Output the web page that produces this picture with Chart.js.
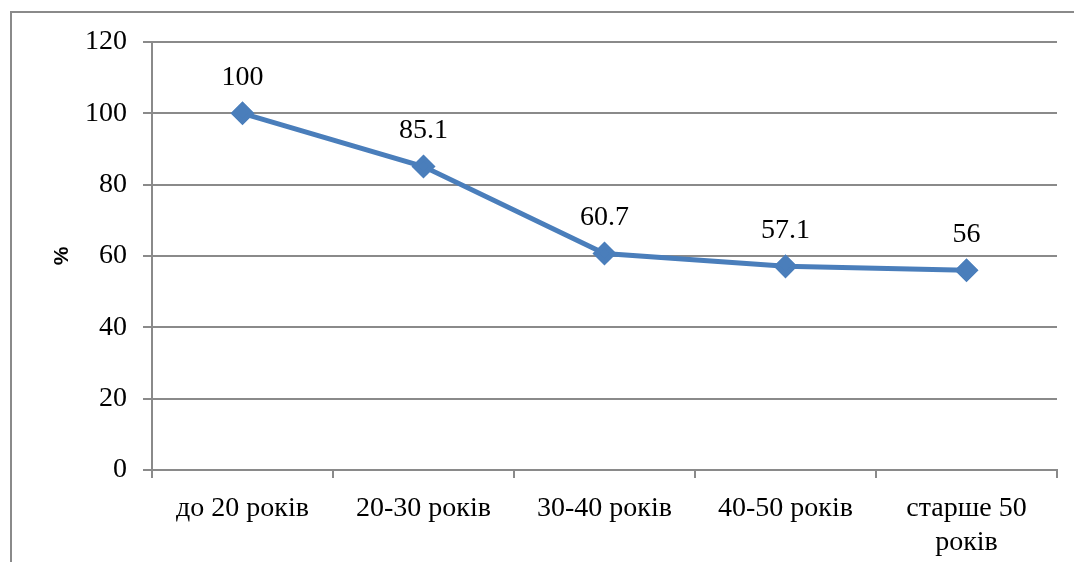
<!DOCTYPE html>
<html>
<head>
<meta charset="utf-8">
<script src="https://cdn.jsdelivr.net/npm/chart.js@4.4.0/dist/chart.umd.min.js"></script>
<style>
  html, body { margin: 0; padding: 0; background: #fff; overflow: hidden; }
  #frame { position: absolute; left: 10px; top: 11px; width: 1200px; height: 700px; border: 2px solid #8a8a8a; box-sizing: border-box; }
  #wrap { position: absolute; left: 0; top: 0; width: 1074px; height: 562px; }
</style>
</head>
<body>
<div id="frame"></div>
<div id="wrap"><canvas id="c" width="1074" height="562"></canvas></div>
<script>
const categories = ["до 20 років", "20-30 років", "30-40 років", "40-50 років", ["старше 50", "років"]];
const values = [100, 85.1, 60.7, 57.1, 56];
const valueLabels = ["100", "85.1", "60.7", "57.1", "56"];
const yTicks = [0, 20, 40, 60, 80, 100, 120];

const SERIF = "'Liberation Serif', 'Times New Roman', serif";
const GRID = '#8a8a8a';

const labelPlugin = {
  id: 'valueLabels',
  afterDatasetsDraw(chart) {
    const ctx = chart.ctx;
    const meta = chart.getDatasetMeta(0);
    ctx.save();
    ctx.font = "28px " + SERIF;
    ctx.fillStyle = '#000';
    ctx.textAlign = 'center';
    ctx.textBaseline = 'middle';
    meta.data.forEach((pt, i) => {
      ctx.fillText(valueLabels[i], pt.x, pt.y - 36);
    });
    ctx.restore();
  }
};

new Chart(document.getElementById('c'), {
  type: 'line',
  data: {
    labels: categories,
    datasets: [{
      data: values,
      borderColor: '#4a7ebb',
      backgroundColor: '#4a7ebb',
      borderWidth: 5,
      pointStyle: 'rectRot',
      pointRadius: 8.5,
      pointHoverRadius: 8.5,
      pointBackgroundColor: '#4a7ebb',
      pointBorderColor: '#4a7ebb',
      tension: 0
    }]
  },
  options: {
    responsive: false,
    animation: false,
    events: [],
    layout: { padding: { top: 42, right: 17, left: 0, bottom: 0 } },
    plugins: { legend: { display: false }, tooltip: { enabled: false } },
    scales: {
      x: {
        offset: true,
        grid: { offset: true, drawOnChartArea: false, drawTicks: true, tickLength: 8, color: GRID, lineWidth: 2 },
        border: { display: true, color: GRID, width: 2 },
        ticks: { color: '#000', font: { family: SERIF, size: 28, lineHeight: 1.2 }, padding: 14, maxRotation: 0, autoSkip: false },
        afterFit(scale) { scale.height = 92; }
      },
      y: {
        min: 0, max: 120,
        afterBuildTicks(scale) { scale.ticks = yTicks.map(v => ({ value: v })); },
        grid: { color: GRID, lineWidth: 2, drawTicks: true, tickLength: 9 },
        border: { display: true, color: GRID, width: 2 },
        ticks: { color: '#000', font: { family: SERIF, size: 28 }, padding: 16 },
        title: { display: true, text: '%', color: '#000', font: { family: "'Liberation Sans', Arial, sans-serif", size: 21, weight: 'bold' }, padding: { top: 50, bottom: 0 } },
        afterFit(scale) { scale.width = 152; }
      }
    }
  },
  plugins: [labelPlugin]
});
</script>
</body>
</html>
